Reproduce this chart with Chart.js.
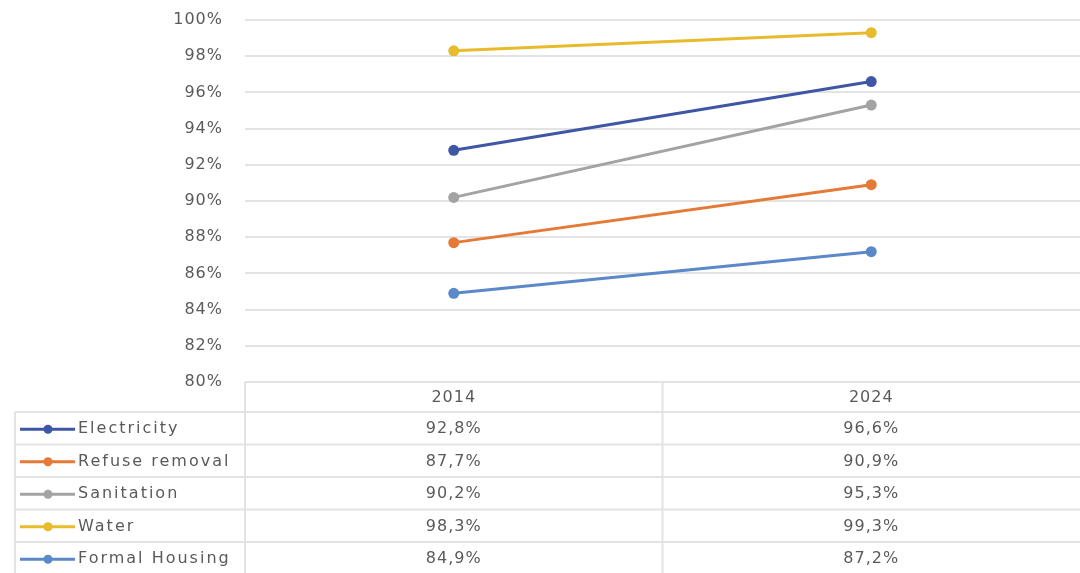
<!DOCTYPE html>
<html>
<head>
<meta charset="utf-8">
<script src="https://cdn.jsdelivr.net/npm/chart.js@4.4.0/dist/chart.umd.min.js"></script>
<style>
  html, body { margin: 0; padding: 0; background: #fff; }
  #wrap { width: 1080px; height: 573px; }
</style>
</head>
<body>
<div id="wrap"><canvas id="servicesChart" width="1080" height="573"></canvas></div>
<script>
const years = ['2014', '2024'];
const electricity = [92.8, 96.6];
const refuseRemoval = [87.7, 90.9];
const sanitation = [90.2, 95.3];
const water = [98.3, 99.3];
const formalHousing = [84.9, 87.2];

const seriesNames = ['Electricity', 'Refuse removal', 'Sanitation', 'Water', 'Formal Housing'];
const seriesValues = [electricity, refuseRemoval, sanitation, water, formalHousing];
const seriesColors = ['#3f56a6', '#e47a35', '#a3a3a3', '#e8bb2c', '#5a88c9'];

const textColor = '#5a5a5a';
const lineColor = '#e3e3e3';
const fontFamily = '"DejaVu Sans", sans-serif';

function pct(v) {
    return v.toFixed(1).replace('.', ',') + '%';
}

// data table drawn under the plot area, lined up with the x scale
const dataTable = {
    id: 'dataTable',
    beforeDraw(chart) {
        chart.ctx.letterSpacing = '1px';
    },
    afterDraw(chart) {
        const ctx = chart.ctx;
        const area = chart.chartArea;
        const x = chart.scales.x;
        const top = area.bottom;
        const headH = 30;
        const rowH = 32.5;
        const legendLeft = 15;
        const right = chart.width;
        const bottom = chart.height;
        const midX = (x.getPixelForValue(0) + x.getPixelForValue(1)) / 2;

        ctx.save();
        ctx.strokeStyle = lineColor;
        ctx.lineWidth = 2;
        ctx.beginPath();
        ctx.moveTo(area.left, top); ctx.lineTo(right, top);
        ctx.moveTo(legendLeft, top + headH); ctx.lineTo(right, top + headH);
        for (let i = 1; i < seriesNames.length; i++) {
            const y = top + headH + rowH * i;
            ctx.moveTo(legendLeft, y); ctx.lineTo(right, y);
        }
        ctx.moveTo(legendLeft, top + headH); ctx.lineTo(legendLeft, bottom);
        ctx.moveTo(area.left, top); ctx.lineTo(area.left, bottom);
        ctx.moveTo(midX, top); ctx.lineTo(midX, bottom);
        ctx.stroke();

        ctx.font = '16px ' + fontFamily;
        ctx.letterSpacing = '1px';
        ctx.fillStyle = textColor;
        ctx.textBaseline = 'middle';
        ctx.textAlign = 'center';
        years.forEach((yr, i) => {
            ctx.fillText(yr, x.getPixelForValue(i), top + headH / 2 + 1);
        });

        seriesNames.forEach((name, r) => {
            const cy = top + headH + rowH * r + rowH / 2 + 1;
            // legend key
            ctx.strokeStyle = seriesColors[r];
            ctx.lineWidth = 3;
            ctx.beginPath();
            ctx.moveTo(20, cy); ctx.lineTo(75, cy);
            ctx.stroke();
            ctx.fillStyle = seriesColors[r];
            ctx.beginPath();
            ctx.arc(48, cy, 4.5, 0, Math.PI * 2);
            ctx.fill();

            ctx.fillStyle = textColor;
            ctx.textAlign = 'left';
            ctx.letterSpacing = '2px';
            ctx.fillText(name, 78, cy);
            ctx.letterSpacing = '1px';
            ctx.textAlign = 'center';
            seriesValues[r].forEach((v, i) => {
                ctx.fillText(pct(v), x.getPixelForValue(i), cy);
            });
        });
        ctx.restore();
    }
};

new Chart(document.getElementById('servicesChart').getContext('2d'), {
    type: 'line',
    data: {
        labels: years,
        datasets: seriesNames.map((name, i) => ({
            label: name,
            data: seriesValues[i],
            borderColor: seriesColors[i],
            backgroundColor: seriesColors[i],
            borderWidth: 3,
            pointRadius: 5.5,
            pointBorderWidth: 0,
            fill: false,
            clip: false
        }))
    },
    options: {
        responsive: false,
        animation: false,
        layout: { autoPadding: false, padding: { top: 20, right: -17, bottom: 183, left: 0 } },
        plugins: {
            legend: { display: false },
            tooltip: { enabled: false }
        },
        scales: {
            x: {
                offset: true,
                ticks: { display: false },
                grid: { display: false },
                border: { display: false },
                afterFit(scale) {
                    scale.paddingLeft = 0;
                    scale.paddingRight = 0;
                }
            },
            y: {
                min: 80,
                max: 100,
                ticks: {
                    stepSize: 2,
                    padding: 22,
                    color: textColor,
                    font: { family: fontFamily, size: 16 },
                    callback: v => v + '%'
                },
                grid: { color: lineColor, lineWidth: 2, drawTicks: false },
                border: { display: false },
                afterFit(scale) {
                    scale.width = 245;
                    scale.paddingTop = 0;
                    scale.paddingBottom = 0;
                }
            }
        }
    },
    plugins: [dataTable]
});
</script>
</body>
</html>
